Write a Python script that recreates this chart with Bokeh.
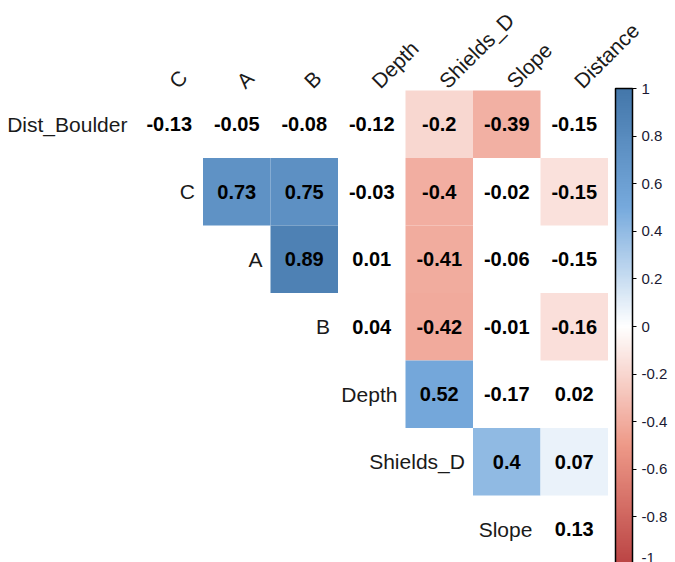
import math
from bokeh.plotting import figure
from bokeh.models import (ColumnDataSource, Range1d, LinearColorMapper, ColorBar,
                          FixedTicker, CustomJSTickFormatter)
from bokeh.core.properties import value
from bokeh.embed import file_html
from bokeh.resources import INLINE

# ---------------- data ----------------
row_vars = ["Dist_Boulder", "C", "A", "B", "Depth", "Shields_D", "Slope"]
col_vars = ["C", "A", "B", "Depth", "Shields_D", "Slope", "Distance"]

# upper-triangle correlation values, one list per row (starting at the diagonal+1)
r_dist_boulder = [-0.13, -0.05, -0.08, -0.12, -0.20, -0.39, -0.15]
r_c = [0.73, 0.75, -0.03, -0.40, -0.02, -0.15]
r_a = [0.89, 0.01, -0.41, -0.06, -0.15]
r_b = [0.04, -0.42, -0.01, -0.16]
r_depth = [0.52, -0.17, 0.02]
r_shields = [0.40, 0.07]
r_slope = [0.13]

# significance flags (coloured cells)
s_dist_boulder = [0, 0, 0, 0, 1, 1, 0]
s_c = [1, 1, 0, 1, 0, 1]
s_a = [1, 0, 1, 0, 0]
s_b = [0, 1, 0, 1]
s_depth = [1, 0, 0]
s_shields = [1, 1]
s_slope = [0]

cb_ticks = [-1, -0.8, -0.6, -0.4, -0.2, 0, 0.2, 0.4, 0.6, 0.8, 1]

rows_vals = [r_dist_boulder, r_c, r_a, r_b, r_depth, r_shields, r_slope]
rows_sig = [s_dist_boulder, s_c, s_a, s_b, s_depth, s_shields, s_slope]

# ---------------- palette ----------------
anchors = ["#BB4444", "#EE9988", "#FFFFFF", "#77AADD", "#4477AA"]
def hex2rgb(h):
    h = h.lstrip("#")
    return [int(h[i:i + 2], 16) for i in (0, 2, 4)]
def make_palette(cols, n=200):
    rgb = [hex2rgb(c) for c in cols]
    out = []
    for k in range(n):
        t = k / (n - 1) * (len(rgb) - 1)
        i = min(int(t), len(rgb) - 2)
        f = t - i
        c = [round(rgb[i][q] + (rgb[i + 1][q] - rgb[i][q]) * f) for q in range(3)]
        out.append("#%02x%02x%02x" % tuple(c))
    return out
palette = make_palette(anchors)
mapper = LinearColorMapper(palette=palette, low=-1, high=1)

# ---------------- sources ----------------
cx, cy, cv, ct = [], [], [], []
sx, sy, sv = [], [], []
for i, (vals, sig) in enumerate(zip(rows_vals, rows_sig)):
    for k, (v, s) in enumerate(zip(vals, sig)):
        j = i + k
        cx.append(j + 0.5); cy.append(i + 0.5); cv.append(v); ct.append(f"{v:g}")
        if s:
            sx.append(j + 0.5); sy.append(i + 0.5); sv.append(v)

cells = ColumnDataSource(dict(x=sx, y=sy, v=sv))
texts = ColumnDataSource(dict(x=cx, y=cy, t=ct))
rlab = ColumnDataSource(dict(x=[i - 0.12 for i in range(len(row_vars))],
                             y=[i + 0.5 for i in range(len(row_vars))], t=row_vars))
clab = ColumnDataSource(dict(x=[j + 0.55 for j in range(len(col_vars))],
                             y=[-0.09] * len(col_vars), t=col_vars))

W, H = 675, 562
cell = 67.5
x0 = -135 / cell
y0 = -90 / cell
p = figure(width=W, height=H, output_backend="svg", toolbar_location=None,
           x_range=Range1d(x0, x0 + W / cell), y_range=Range1d(y0 + H / cell, y0),
           min_border=0, outline_line_color=None)
p.axis.visible = False
p.grid.visible = False
p.background_fill_color = "white"
p.border_fill_color = "white"

p.rect(x="x", y="y", width=1, height=1, source=cells,
       fill_color={"field": "v", "transform": mapper}, line_color=None)

p.text(x="x", y="y", text="t", source=texts, text_font=value("Liberation Sans"),
       text_font_style="bold", text_font_size="20px", text_color="black",
       text_align="center", text_baseline="middle")

p.text(x="x", y="y", text="t", source=rlab, text_font=value("Liberation Sans"),
       text_font_size="21px", text_color="#1a1a1a",
       text_align="right", text_baseline="middle")

p.text(x="x", y="y", text="t", source=clab, text_font=value("Liberation Sans"),
       text_font_size="21px", text_color="#1a1a1a", angle=math.pi / 4,
       text_align="left", text_baseline="alphabetic")

cb = ColorBar(color_mapper=mapper, orientation="vertical", width=17, height=476,
              location=(615, -2), padding=0, margin=0,
              ticker=FixedTicker(ticks=cb_ticks),
              formatter=CustomJSTickFormatter(code="return String(Math.round(tick*10)/10);"),
              bar_line_color="black", bar_line_width=1.5,
              major_tick_in=0, major_tick_out=4, major_tick_line_color="black",
              major_label_text_font="Liberation Sans", major_label_text_font_size="15px",
              major_label_text_color="#1a1a33", label_standoff=5,
              background_fill_alpha=0, border_line_color=None)
p.add_layout(cb)

open("out.html", "w").write(file_html(p, INLINE))
